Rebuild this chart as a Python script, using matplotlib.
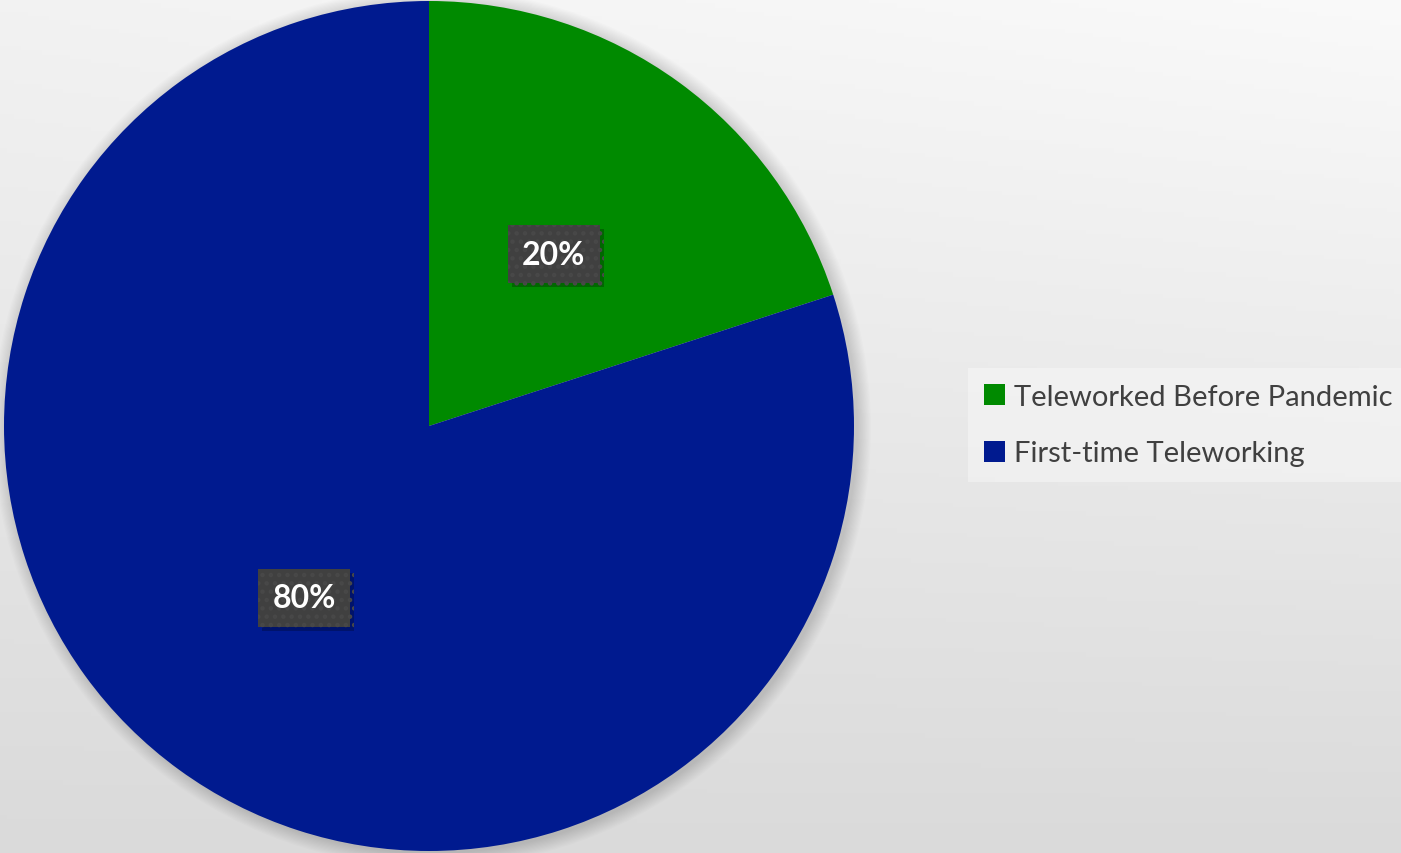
import numpy as np
import matplotlib
matplotlib.use("Agg")
import matplotlib.pyplot as plt
import matplotlib.patheffects as pe
from matplotlib.patches import Circle

labels = ["Teleworked Before Pandemic", "First-time Teleworking"]
values = [20, 80]
colors = ["#008A00", "#001A8F"]

W, H = 1401, 854
fig = plt.figure(figsize=(W / 100, H / 100), dpi=100)

# background gradient
bg = fig.add_axes([0, 0, 1, 1])
bg.set_axis_off()
xs = np.linspace(0, 1, 200)
ys = np.linspace(0, 1, 200)
X, Y = np.meshgrid(xs, ys)
V = 0.98 - 0.03 * (1 - X) * (1 - Y) - 0.125 * Y
bg.imshow(np.dstack([V, V, V]), extent=[0, 1, 0, 1], aspect="auto", origin="upper")

ax = fig.add_axes([0, 0, 1, 1])
ax.set_axis_off()
ax.patch.set_alpha(0)

cx, cy, r = 429, H - 427, 425

# soft shadow
for i in range(12):
    ax.add_patch(Circle((cx + 3, cy - 2), r + 14 - i * 1.2, color="black",
                        alpha=0.012, lw=0, zorder=0))

plt.rcParams["hatch.linewidth"] = 2.0
wedges, texts, autotexts = ax.pie(
    values, colors=colors, startangle=90, counterclock=False,
    center=(cx, cy), radius=r, autopct="%d%%", pctdistance=0.5,
    wedgeprops=dict(linewidth=0), frame=True,
    textprops=dict(color="white", fontsize=23, fontweight="bold", family="Lato"))
ax.set_axis_off()
ax.set_xlim(0, W)
ax.set_ylim(0, H)
ax.set_aspect("equal")

for t in autotexts:
    t.set_bbox(dict(boxstyle="square,pad=0.45", fc="#404040", ec="#484848",
                    lw=0, hatch=".."))
    t.get_bbox_patch().set_path_effects([
        pe.SimplePatchShadow(offset=(3, -3), shadow_rgbFace="black", alpha=0.25),
        pe.Normal()])

leg = ax.legend(wedges, labels, loc="center left",
                bbox_to_anchor=(968 / W, 1 - 426 / H), bbox_transform=fig.transFigure,
                frameon=True, fancybox=False, framealpha=0.35, facecolor="white",
                edgecolor="none", handlelength=0.72, handleheight=0.72,
                handletextpad=0.3, labelspacing=1.05, borderpad=0.55,
                borderaxespad=0, prop=dict(family="Lato", size=21))
for t in leg.get_texts():
    t.set_color("#404040")

fig.savefig("out.png", dpi=100)
